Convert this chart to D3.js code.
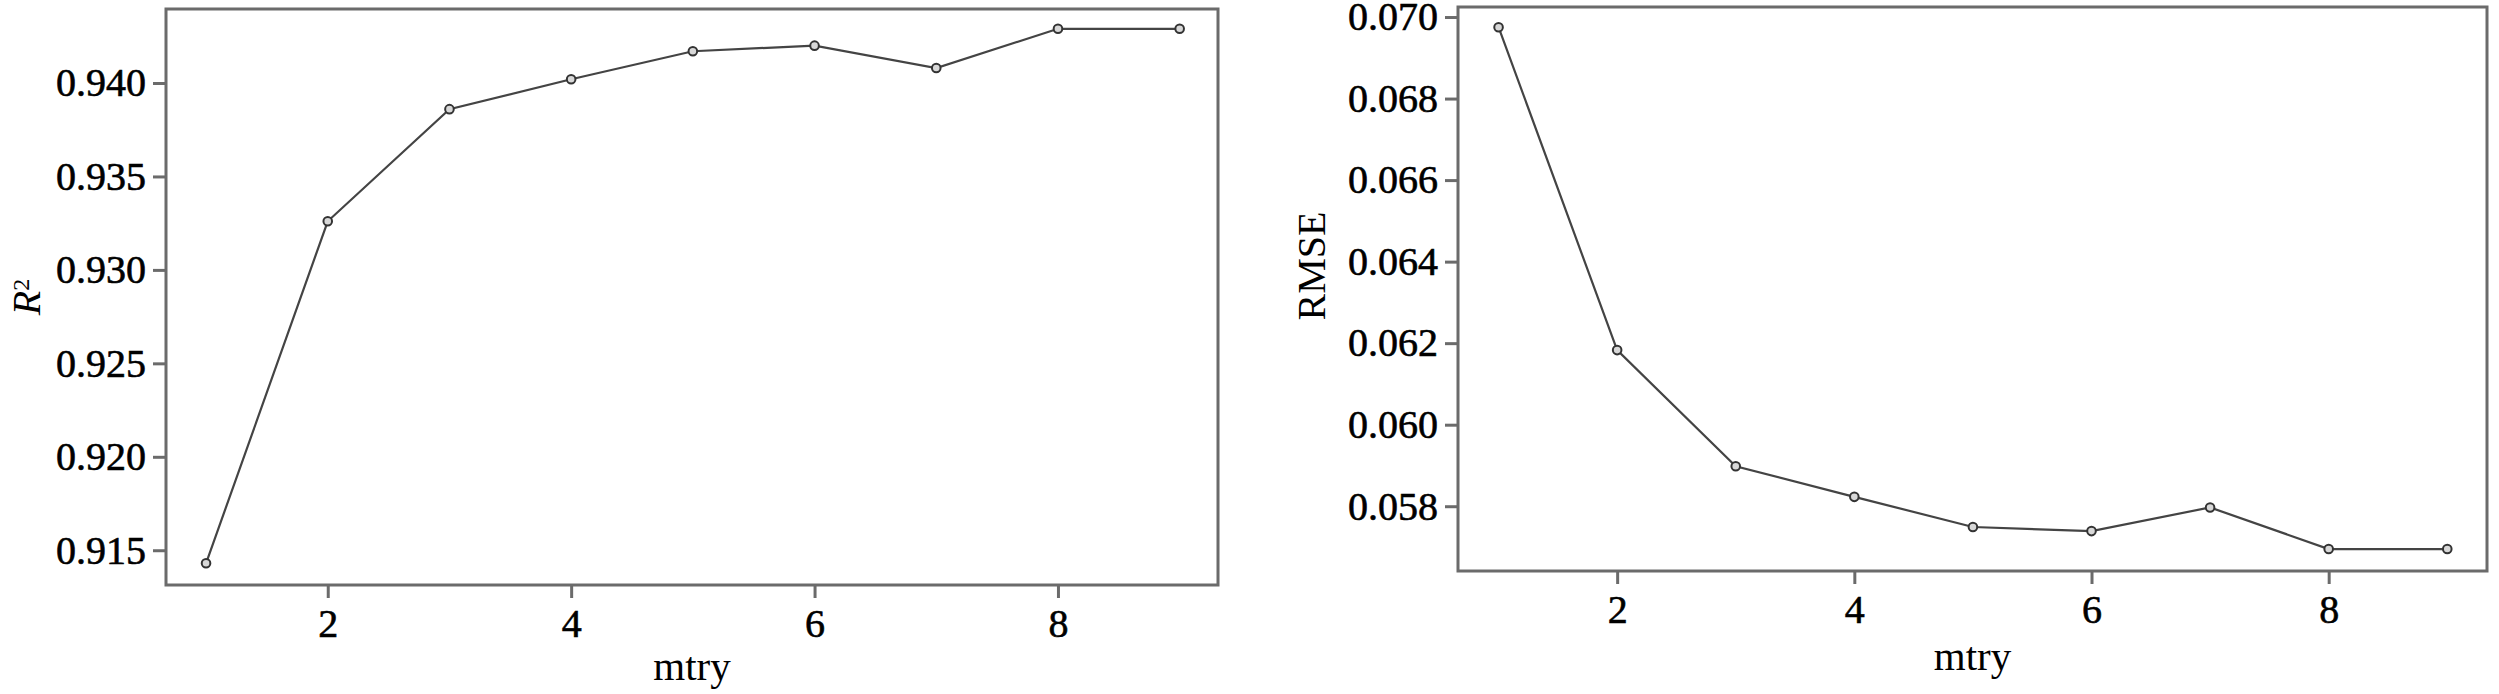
<!DOCTYPE html>
<html>
<head>
<meta charset="utf-8">
<script src="https://cdn.jsdelivr.net/npm/d3@7"></script>
<style>
  body { margin: 0; background: #fff; }
  svg text { font-family: "Liberation Serif", "Times New Roman", serif; fill: #000; }
</style>
</head>
<body>
<svg id="chart" width="2499" height="694"></svg>
<script>
// values
const mtry = [1, 2, 3, 4, 5, 6, 7, 8, 9]
const r2 = [0.9143, 0.9326, 0.9386, 0.9402, 0.9417, 0.9420, 0.9408, 0.9429, 0.9429]
const rmse = [0.06975, 0.06183, 0.05898, 0.05823, 0.05749, 0.05739, 0.05797, 0.05695, 0.05695]
const xTicks = [2, 4, 6, 8]
const r2Ticks = [0.915, 0.920, 0.925, 0.930, 0.935, 0.940]
const rmseTicks = [0.058, 0.060, 0.062, 0.064, 0.066, 0.068, 0.070]

const svg = d3.select("#chart")
const serif = "'Liberation Serif', 'Times New Roman', serif"

const panels = [
  { values: r2, ticks: r2Ticks, label: "R", sup: "2",
    left: 166, right: 1218, top: 9, bottom: 585,
    xDom: [0.671, 9.315], yDom: [0.91314, 0.94396],
    ylabX: 40, ylabY: 297, xlabY: 680 },
  { values: rmse, ticks: rmseTicks, label: "RMSE",
    left: 1458, right: 2487, top: 7, bottom: 571,
    xDom: [0.658, 9.335], yDom: [0.056411, 0.070246],
    ylabX: 1325, ylabY: 266, xlabY: 670 }
]

const frameColor = "#6b6b6b"

panels.forEach(p => {
  const x = d3.scaleLinear().domain(p.xDom).range([p.left, p.right])
  const y = d3.scaleLinear().domain(p.yDom).range([p.bottom, p.top])
  const g = svg.append("g").attr("font-family", serif)

  // y axis
  const ya = g.append("g")
    .attr("transform", `translate(${p.left},0)`)
    .call(d3.axisLeft(y).tickValues(p.ticks).tickSize(13).tickPadding(7)
      .tickFormat(d3.format(".3f")))
  // x axis
  const xa = g.append("g")
    .attr("transform", `translate(0,${p.bottom})`)
    .call(d3.axisBottom(x).tickValues(xTicks).tickSize(13).tickPadding(8)
      .tickFormat(d3.format("d")))

  ;[ya, xa].forEach(a => {
    a.attr("font-family", serif).attr("font-size", 40)
    a.select(".domain").remove()
    a.selectAll(".tick line").attr("stroke", frameColor).attr("stroke-width", 3)
    a.selectAll(".tick text")
      .style("font-family", serif)
      .style("font-size", "40px")
      .attr("fill", "#000")
      .attr("stroke", "#000")
      .attr("stroke-width", 0.6)
  })
  xa.selectAll(".tick text").attr("dy", "0.78em")

  // frame
  g.append("rect")
    .attr("x", p.left).attr("y", p.top)
    .attr("width", p.right - p.left).attr("height", p.bottom - p.top)
    .attr("fill", "none").attr("stroke", frameColor).attr("stroke-width", 3)

  // line
  const line = d3.line().x((d, i) => x(mtry[i])).y(d => y(d))
  g.append("path")
    .datum(p.values)
    .attr("d", line)
    .attr("fill", "none")
    .attr("stroke", "#444")
    .attr("stroke-width", 2.2)

  g.selectAll("circle")
    .data(p.values)
    .enter()
    .append("circle")
    .attr("cx", (d, i) => x(mtry[i]))
    .attr("cy", d => y(d))
    .attr("r", 4.3)
    .attr("fill", "#d8d8d8")
    .attr("stroke", "#333")
    .attr("stroke-width", 2)

  // axis titles
  const yl = g.append("text")
    .attr("transform", `translate(${p.ylabX},${p.ylabY}) rotate(-90)`)
    .attr("text-anchor", "middle")
    .style("font-size", "40px")
  if (p.sup) {
    yl.append("tspan").style("font-style", "italic").text(p.label)
    yl.append("tspan").attr("dy", "-0.45em").style("font-size", "24px").text(p.sup)
  } else {
    yl.text(p.label)
  }

  g.append("text")
    .attr("x", (p.left + p.right) / 2)
    .attr("y", p.xlabY)
    .attr("text-anchor", "middle")
    .style("font-size", "41px")
    .text("mtry")
})
</script>
</body>
</html>
